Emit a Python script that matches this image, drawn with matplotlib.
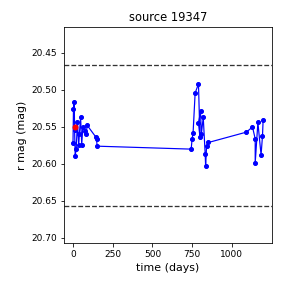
import numpy as np
import matplotlib
matplotlib.use("Agg")
import matplotlib.pyplot as plt

# light curve (time in days, r magnitude)
time = [0, 3, 8, 10, 14, 20, 28, 36, 40, 48, 55, 62, 75, 82, 90, 145, 148, 152,
        744, 750, 756, 769, 790, 799, 790, 803, 808, 820, 832, 835, 841, 853,
        1092, 1130, 1147, 1147, 1164, 1184, 1193, 1197]
mag = [20.572, 20.526, 20.516, 20.554, 20.589, 20.580, 20.543, 20.575, 20.560, 20.537,
       20.574, 20.550, 20.555, 20.560, 20.548, 20.564, 20.566, 20.576,
       20.580, 20.566, 20.558, 20.504, 20.492, 20.563, 20.545, 20.529, 20.560, 20.537,
       20.586, 20.603, 20.576, 20.571,
       20.557, 20.550, 20.566, 20.599, 20.544, 20.588, 20.562, 20.540]

ref_time = [12]
ref_mag = [20.550]

upper = 20.466
lower = 20.657

fig = plt.figure(figsize=(4, 4), dpi=72)
ax = fig.add_axes([0.222, 0.156, 0.722, 0.75])

ax.plot(time, mag, "o-", color="blue", ms=4, lw=1.2)
ax.plot(ref_time, ref_mag, "o", color="red", ms=5)
ax.axhline(upper, color="#333333", ls="--", lw=1.3)
ax.axhline(lower, color="#333333", ls="--", lw=1.3)

ax.set_xlim(-57, 1252)
ax.set_ylim(20.707, 20.415)
ax.set_xticks([0, 250, 500, 750, 1000])
ax.set_yticks([20.45, 20.50, 20.55, 20.60, 20.65, 20.70])
ax.tick_params(labelsize=9)

ax.set_xlabel("time (days)", fontsize=11)
ax.set_ylabel("r mag (mag)", fontsize=11)
ax.set_title("source 19347", fontsize=11.5)

fig.savefig("out.png", dpi=72)
